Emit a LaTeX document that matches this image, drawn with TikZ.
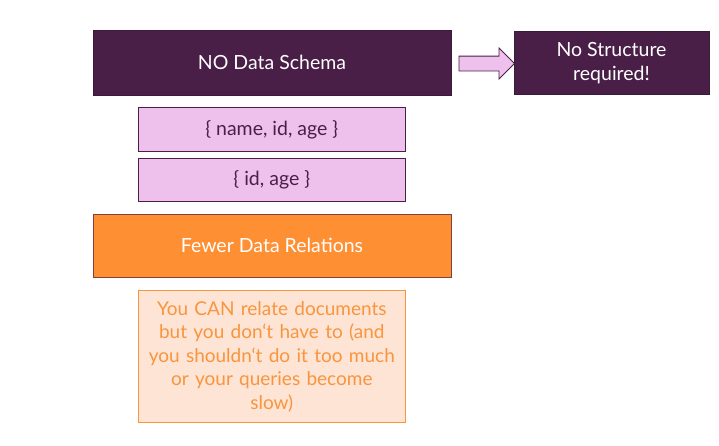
\documentclass[tikz,border=0pt]{standalone}
\usepackage{fontspec}
\setmainfont{Lato}
\usetikzlibrary{shapes.arrows}
\definecolor{dpurple}{HTML}{4A1F47}
\definecolor{lpink}{HTML}{EDC1EC}
\definecolor{orng}{HTML}{FF8F33}
\definecolor{lorng}{HTML}{FEE4D4}
\definecolor{orngtxt}{HTML}{F8953E}
\tikzset{
  darkbox/.style={draw=dpurple!80!black, fill=dpurple, text=white, line width=0.8pt, inner sep=0pt, align=center, font=\fontsize{19.5}{24}\selectfont},
  pinkbox/.style={draw=dpurple, fill=lpink, text=dpurple, line width=0.8pt, inner sep=0pt, align=center, font=\fontsize{19.5}{22}\selectfont},
  orangebox/.style={draw=dpurple!70!orng, fill=orng, text=white, line width=0.8pt, inner sep=0pt, align=center, font=\fontsize{19.5}{23}\selectfont},
  notebox/.style={draw=orngtxt, fill=lorng, text=orngtxt, line width=0.8pt, inner sep=0pt, align=center, font=\fontsize{19}{23.5}\selectfont},
  blockarrow/.style={single arrow, draw=dpurple, fill=lpink, line width=0.8pt, inner xsep=0pt, inner ysep=7pt, minimum width=30pt, minimum height=55.5pt, single arrow head extend=8pt, single arrow tip angle=90}
}
\begin{document}
\begin{tikzpicture}[x=1pt,y=-1pt]
\useasboundingbox (0,0) rectangle (719,445);
\node[darkbox, minimum width=358pt, minimum height=65pt] (schema) at (272,62.5) {NO Data Schema};
\node[darkbox, minimum width=195pt, minimum height=63pt] (struct) at (611.5,63.25) {No Structure\\required!};
\node[blockarrow] (arr) at (483,63.5) {};
\node[pinkbox, minimum width=267.5pt, minimum height=43.5pt] (doc1) at (271.8,129.5) {\{ name, id, age \}};
\node[pinkbox, minimum width=267.5pt, minimum height=43pt] (doc2) at (271.8,179.5) {\{ id, age \}};
\node[orangebox, minimum width=358pt, minimum height=63pt] (rel) at (272,245.5) {Fewer Data Relations};
\node[notebox, minimum width=267.5pt, minimum height=132pt, text width=264pt] (note) at (271.8,356.7) {You CAN relate documents\\but you don‘t have to (and\\you shouldn‘t do it too much\\or your queries become\\slow)};
\end{tikzpicture}
\end{document}
